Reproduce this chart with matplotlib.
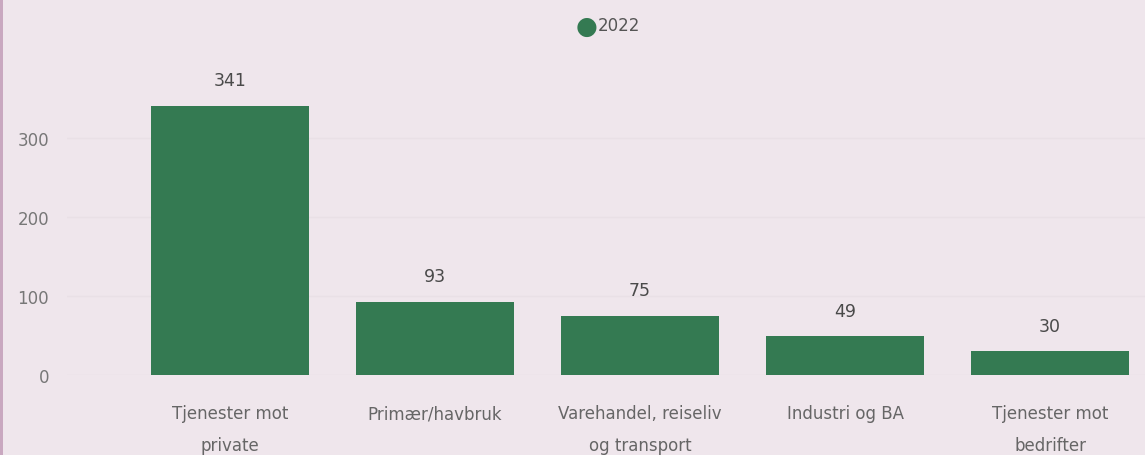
import matplotlib.pyplot as plt
from matplotlib.patches import Rectangle

# data
categories = ['Tjenester mot\nprivate', 'Primær/havbruk', 'Varehandel, reiseliv\nog transport',
              'Industri og BA', 'Tjenester mot\nbedrifter']
values_2022 = [341, 93, 75, 49, 30]
series_name = '2022'

bg = '#efe6ec'
green = '#347a52'

fig = plt.figure(figsize=(11.45, 4.56), dpi=100, facecolor=bg)
ax = fig.add_axes([67 / 1145, 80 / 456, 1 - 67 / 1145, 316 / 456])
ax.set_facecolor(bg)

x = list(range(len(categories)))
bars = ax.bar(x, values_2022, width=0.77, color=green, zorder=3)

# value labels over bars
for xi, v in zip(x, values_2022):
    ax.annotate(str(v), (xi, v), xytext=(0, 12), textcoords='offset points',
                ha='center', va='bottom', fontsize=12.5, color='#4a4a4a')

ax.set_xlim(-0.795, 4.463)
ax.set_ylim(0, 400)
ax.set_yticks([0, 100, 200, 300])
ax.set_xticks(x)
ax.set_xticklabels(categories, fontsize=12, color='#666666', linespacing=2.0)
ax.tick_params(axis='y', length=0, pad=13, labelsize=12, labelcolor='#777777')
ax.tick_params(axis='x', length=0, pad=21)
ax.grid(axis='y', color='#e9e0e6', linewidth=1, zorder=0)
for s in ax.spines.values():
    s.set_visible(False)

# legend (dot + year)
fig.text(587 / 1145, 1 - 27 / 456, '\u25CF', color=green, fontsize=18, ha='center', va='center')
fig.text(598 / 1145, 1 - 26 / 456, series_name, color='#555555', fontsize=12, ha='left', va='center')

# left edge accent line
fig.add_artist(Rectangle((0, 0), 3 / 1145, 1, transform=fig.transFigure, color='#c9a8c0', lw=0))

fig.savefig('out.png', dpi=100, facecolor=bg)
